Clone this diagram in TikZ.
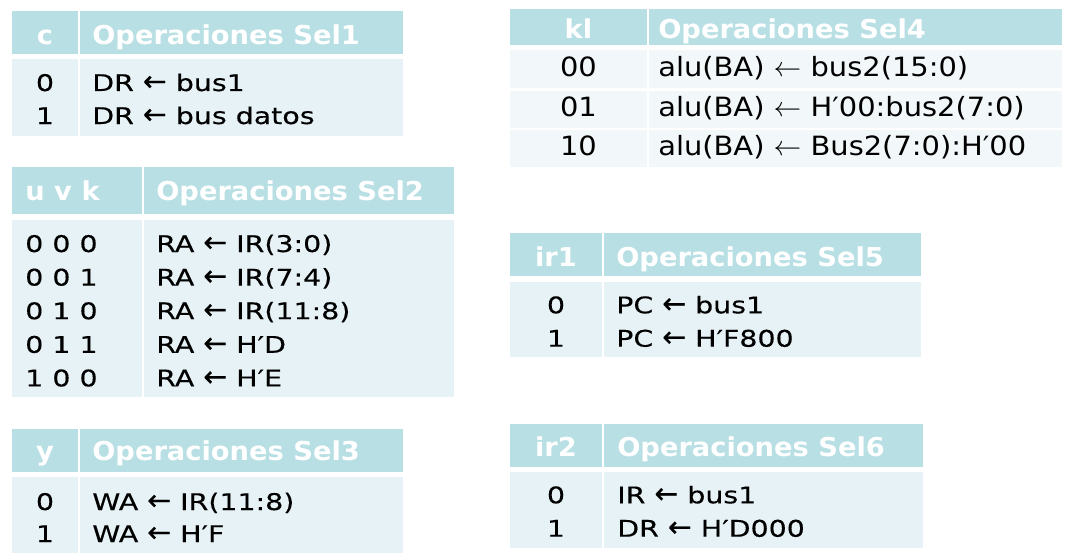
\documentclass[tikz,border=0pt]{standalone}
\usepackage{fontspec}
\usepackage{tikz}
\newfontfamily\bodyfont[FakeStretch=1.24,FakeBold=0.3]{DejaVu Sans}
\newfontfamily\headfont[FakeStretch=1.05]{DejaVu Sans}
\newfontfamily\alufont[FakeStretch=1.09]{DejaVu Sans}
\newcommand\larr{\scalebox{1}[1.25]{←}}
\definecolor{hdrcol}{RGB}{184,223,227}
\definecolor{cellcol}{RGB}{230,242,245}
\definecolor{lightcol}{RGB}{242,248,250}
\begin{document}
\begin{tikzpicture}[x=0.75pt,y=-0.75pt,
  hdr/.style={fill=hdrcol,draw=none},
  cell/.style={fill=cellcol,draw=none},
  lcell/.style={fill=lightcol,draw=none},
  htxt/.style={inner sep=0pt,text=white,font=\headfont\bfseries\fontsize{19.5}{22}\selectfont},
  btxt/.style={inner sep=0pt,text=black,font=\bodyfont\fontsize{17.2}{20}\selectfont},
  atxt/.style={inner sep=0pt,text=black,font=\alufont\fontsize{19.9}{24}\selectfont}]
\useasboundingbox[fill=white] (0,0) rectangle (1072,560);

\fill[hdr] (12,11) rectangle (78,54);
\fill[hdr] (80,11) rectangle (403,54);
\fill[cell] (12,59) rectangle (78,136);
\fill[cell] (80,59) rectangle (403,136);
\node[htxt,anchor=base] (sela) at (45,44.7) {c};
\node[htxt,anchor=base west] (opa) at (92,44.7) {Operaciones Sel1};
\node[btxt,anchor=base] (sela0) at (45,91) {0};
\node[btxt,anchor=base west] (opa0) at (92,91) {DR \larr{} bus1};
\node[btxt,anchor=base] (sela1) at (45,124) {1};
\node[btxt,anchor=base west] (opa1) at (92,124) {DR \larr{} bus datos};

\fill[hdr] (12,167) rectangle (142,214);
\fill[hdr] (144,167) rectangle (454,214);
\fill[cell] (12,220) rectangle (142,397);
\fill[cell] (144,220) rectangle (454,397);
\node[htxt,anchor=base west] (selb) at (25,200.7) {u v k};
\node[htxt,anchor=base west] (opb) at (156,200.7) {Operaciones Sel2};
\node[btxt,anchor=base west] (selb0) at (25,252) {0 0 0};
\node[btxt,anchor=base west] (opb0) at (156,252) {RA \larr{} IR(3:0)};
\node[btxt,anchor=base west] (selb1) at (25,285.6) {0 0 1};
\node[btxt,anchor=base west] (opb1) at (156,285.6) {RA \larr{} IR(7:4)};
\node[btxt,anchor=base west] (selb2) at (25,319.2) {0 1 0};
\node[btxt,anchor=base west] (opb2) at (156,319.2) {RA \larr{} IR(11:8)};
\node[btxt,anchor=base west] (selb3) at (25,352.8) {0 1 1};
\node[btxt,anchor=base west] (opb3) at (156,352.8) {RA \larr{} H′D};
\node[btxt,anchor=base west] (selb4) at (25,386.4) {1 0 0};
\node[btxt,anchor=base west] (opb4) at (156,386.4) {RA \larr{} H′E};

\fill[hdr] (12,429) rectangle (78,472);
\fill[hdr] (80,429) rectangle (403,472);
\fill[cell] (12,477) rectangle (78,553);
\fill[cell] (80,477) rectangle (403,553);
\node[htxt,anchor=base] (selc) at (45,460) {y};
\node[htxt,anchor=base west] (opc) at (92,460) {Operaciones Sel3};
\node[btxt,anchor=base] (selc0) at (45,510) {0};
\node[btxt,anchor=base west] (opc0) at (92,510) {WA \larr{} IR(11:8)};
\node[btxt,anchor=base] (selc1) at (45,542) {1};
\node[btxt,anchor=base west] (opc1) at (92,542) {WA \larr{} H′F};

\fill[hdr] (510,9.5) rectangle (647,45);
\fill[hdr] (649,9.5) rectangle (1062,45);
\fill[lcell] (510,50) rectangle (647,88);
\fill[lcell] (649,50) rectangle (1062,88);
\fill[lcell] (510,91) rectangle (647,128);
\fill[lcell] (649,91) rectangle (1062,128);
\fill[lcell] (510,130) rectangle (647,167);
\fill[lcell] (649,130) rectangle (1062,167);
\node[htxt,anchor=base] (seld) at (578.5,38.3) {kl};
\node[htxt,anchor=base west] (opd) at (658,38.3) {Operaciones Sel4};
\node[atxt,anchor=base] (seld0) at (578.5,76.7) {00};
\node[atxt,anchor=base west] (opd0) at (658,76.7) {alu(BA) $\leftarrow$ bus2(15:0)};
\node[atxt,anchor=base] (seld1) at (578.5,116.7) {01};
\node[atxt,anchor=base west] (opd1) at (658,116.7) {alu(BA) $\leftarrow$ H′00:bus2(7:0)};
\node[atxt,anchor=base] (seld2) at (578.5,156) {10};
\node[atxt,anchor=base west] (opd2) at (658,156) {alu(BA) $\leftarrow$ Bus2(7:0):H′00};

\fill[hdr] (510,233) rectangle (602,276);
\fill[hdr] (604,233) rectangle (921,276);
\fill[cell] (510,282) rectangle (602,357);
\fill[cell] (604,282) rectangle (921,357);
\node[htxt,anchor=base] (sele) at (556,266.7) {ir1};
\node[htxt,anchor=base west] (ope) at (616,266.7) {Operaciones Sel5};
\node[btxt,anchor=base] (sele0) at (556,313.3) {0};
\node[btxt,anchor=base west] (ope0) at (616,313.3) {PC \larr{} bus1};
\node[btxt,anchor=base] (sele1) at (556,346.7) {1};
\node[btxt,anchor=base west] (ope1) at (616,346.7) {PC \larr{} H′F800};

\fill[hdr] (510,424) rectangle (602,467);
\fill[hdr] (604,424) rectangle (923,467);
\fill[cell] (510,472) rectangle (602,548);
\fill[cell] (604,472) rectangle (923,548);
\node[htxt,anchor=base] (self) at (556,456.7) {ir2};
\node[htxt,anchor=base west] (opf) at (617,456.7) {Operaciones Sel6};
\node[btxt,anchor=base] (self0) at (556,503.3) {0};
\node[btxt,anchor=base west] (opf0) at (617,503.3) {IR \larr{} bus1};
\node[btxt,anchor=base] (self1) at (556,536.7) {1};
\node[btxt,anchor=base west] (opf1) at (617,536.7) {DR \larr{} H′D000};

\end{tikzpicture}
\end{document}
